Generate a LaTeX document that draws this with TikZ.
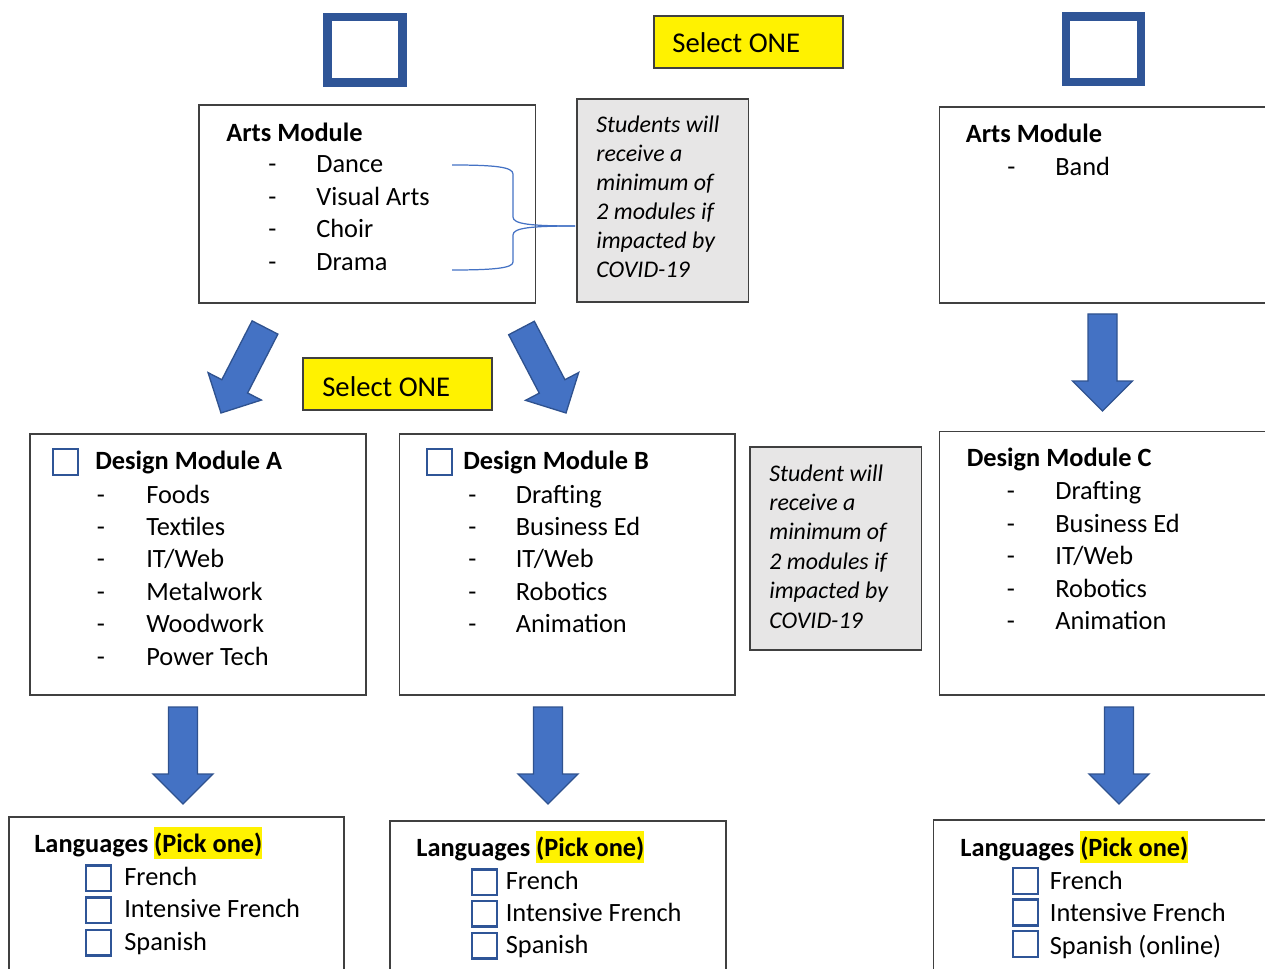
\documentclass[tikz,border=0pt]{standalone}
\usepackage{fontspec}
\setmainfont{Carlito}
\usetikzlibrary{calc}
\definecolor{arrowblue}{HTML}{4472C4}
\definecolor{arrowedge}{HTML}{2F528F}
\definecolor{tickblue}{HTML}{2F5597}
\definecolor{notegray}{HTML}{E7E6E6}
\definecolor{boxline}{HTML}{404040}
\setlength{\fboxsep}{0pt}
\newcommand\pickone{\colorbox{yellow}{\rule[-4pt]{0pt}{18.2pt}(Pick one)}}
% fat block arrow from #1 to the tip #2
\newcommand\blockarrow[2]{%
  \coordinate (bah) at ($(#2)!0.6cm!(#1)$);
  \filldraw[blockarr] ($(#1)!0.29cm!90:(#2)$) -- ($(bah)!0.29cm!90:(#2)$) -- ($(bah)!0.6cm!90:(#2)$) -- (#2)
    -- ($(bah)!0.6cm!-90:(#2)$) -- ($(bah)!0.29cm!-90:(#2)$) -- ($(#1)!0.29cm!-90:(#2)$) -- cycle;}

\begin{document}
\begin{tikzpicture}[x=0.02cm, y=-0.02cm,
	modbox/.style={draw=boxline, line width=0.8pt},
	notebox/.style={draw=boxline, fill=notegray, line width=0.8pt},
	selbox/.style={draw=boxline, fill=yellow, line width=0.8pt},
	bigtick/.style={draw=tickblue, line width=4.6pt},
	tickbox/.style={draw=tickblue, line width=1.4pt},
	txt/.style={anchor=base west, inner sep=0pt, font=\fontsize{15pt}{18pt}\selectfont},
	head/.style={txt, font=\fontsize{15pt}{18pt}\selectfont\bfseries},
	note/.style={anchor=base west, inner sep=0pt, font=\fontsize{13.6pt}{16pt}\selectfont\itshape},
	sel/.style={anchor=base west, inner sep=0pt, font=\fontsize{16.3pt}{19pt}\selectfont},
	blockarr/.style={fill=arrowblue, draw=arrowedge, line width=0.75pt, line join=miter},
	bracelink/.style={draw=arrowblue, line width=0.7pt}]
			\useasboundingbox (0,0) rectangle (1265,969);
			\clip (0,0) rectangle (1265,969);
			% big tick boxes on top
			\draw[bigtick] (327.5,17) rectangle (402.5,82.5);
			\draw[bigtick] (1066,16.5) rectangle (1141,82);
			% select one labels
			\draw[selbox] (654,16) rectangle (843,68);
			\node[sel] (sel1) at (672,53) {Select ONE};
			\draw[selbox] (303,358) rectangle (492,410);
			\node[sel] (sel2) at (322,397) {Select ONE};
			% arts modules
			\draw[modbox] (199,105) rectangle (535.5,303);
			\node[head] (arts1) at (226,142) {Arts Module};
			\foreach \t [count=\i] in {Dance, Visual Arts, Choir, Drama} {
				\node[txt] (arts1d\i) at (268,{140.5+32.5*\i}) {-};
				\node[txt] (arts1i\i) at (316,{140.5+32.5*\i}) {\t};
			}
			\draw[modbox] (939.5,107) rectangle (1290,303);
			\node[head] (arts2) at (965.5,143) {Arts Module};
			\node[txt] (arts2d1) at (1007,176) {-};
			\node[txt] (arts2i1) at (1055,176) {Band};
			% notes
			\draw[notebox] (577,99) rectangle (748.5,302);
			\foreach \t [count=\i] in {Students will, receive a, minimum of, 2 modules if, impacted by, COVID-19}
				\node[note] (note1l\i) at (596,{104+29*\i}) {\t};
			\draw[notebox] (750,447) rectangle (921.5,650);
			\foreach \t [count=\i] in {Student will, receive a, minimum of, 2 modules if, impacted by, COVID-19}
				\node[note] (note2l\i) at (769,{451.6+29.4*\i}) {\t};
			% brace
			\coordinate (btip) at (575,226);
			\draw[bracelink] (452,165) .. controls (495,165) and (513,167) .. (513,174) -- (513,217) .. controls (513,224) and (530,226) .. (btip);
			\draw[bracelink] (btip) .. controls (530,226) and (513,228) .. (513,235) -- (513,262) .. controls (513,268) and (495,270) .. (452,270);
			% design modules
			\draw[modbox] (30,434) rectangle (366,695);
			\draw[tickbox] (53.2,449.2) rectangle +(25,25.6);
			\node[head] (desA) at (95,470) {Design Module A};
			\foreach \t [count=\i] in {Foods, Textiles, IT/Web, Metalwork, Woodwork, Power Tech} {
				\node[txt] (desAd\i) at (96.5,{470.6+32.4*\i}) {-};
				\node[txt] (desAi\i) at (146,{470.6+32.4*\i}) {\t};
			}
			\draw[modbox] (399.5,434) rectangle (735,695);
			\draw[tickbox] (426.8,449.2) rectangle +(25,25.6);
			\node[head] (desB) at (463,470) {Design Module B};
			\foreach \t [count=\i] in {Drafting, Business Ed, IT/Web, Robotics, Animation} {
				\node[txt] (desBd\i) at (468,{470.6+32.4*\i}) {-};
				\node[txt] (desBi\i) at (515.5,{470.6+32.4*\i}) {\t};
			}
			\draw[modbox] (939.5,431.5) rectangle (1290,695);
			\node[head] (desC) at (966.5,467) {Design Module C};
			\foreach \t [count=\i] in {Drafting, Business Ed, IT/Web, Robotics, Animation} {
				\node[txt] (desCd\i) at (1006.5,{467.6+32.4*\i}) {-};
				\node[txt] (desCi\i) at (1055,{467.6+32.4*\i}) {\t};
			}
			% languages
			\draw[modbox] (9,817) rectangle (344,1000);
			\node[head] (langA) at (34,852) {Languages \pickone};
			\foreach \t [count=\i] in {French, Intensive French, Spanish} {
				\draw[tickbox] (86.2,{833+32.3*\i}) rectangle +(25,25.6);
				\node[txt] (langAi\i) at (124,{852.5+32.5*\i}) {\t};
			}
			\draw[modbox] (390,821) rectangle (726,1000);
			\node[head] (langB) at (416,856) {Languages \pickone};
			\foreach \t [count=\i] in {French, Intensive French, Spanish} {
				\draw[tickbox] (472.2,{837.7+31.7*\i}) rectangle +(25,25.6);
				\node[txt] (langBi\i) at (505.5,{857+32*\i}) {\t};
			}
			\draw[modbox] (933.5,820) rectangle (1290,1000);
			\node[head] (langC) at (960,856) {Languages \pickone};
			\foreach \t [count=\i] in {French, Intensive French, Spanish (online)} {
				\draw[tickbox] (1013.2,{836.7+31.5*\i}) rectangle +(25,25.6);
				\node[txt] (langCi\i) at (1049.5,{856.5+32.5*\i}) {\t};
			}
			% block arrows
			\coordinate (aL0) at (265,327.5);
			\coordinate (aL1) at (221,413);
			\coordinate (aR0) at (521.5,328);
			\coordinate (aR1) at (566,413);
			\coordinate (aC0) at (1102.5,314);
			\coordinate (aC1) at (1102.5,411);
			\coordinate (dA0) at (183,707);
			\coordinate (dA1) at (183,804);
			\coordinate (dB0) at (548,707);
			\coordinate (dB1) at (548,804);
			\coordinate (dC0) at (1119,707);
			\coordinate (dC1) at (1119,804);
			\blockarrow{aL0}{aL1}
			\blockarrow{aR0}{aR1}
			\blockarrow{aC0}{aC1}
			\blockarrow{dA0}{dA1}
			\blockarrow{dB0}{dB1}
			\blockarrow{dC0}{dC1}
\end{tikzpicture}
\end{document}
